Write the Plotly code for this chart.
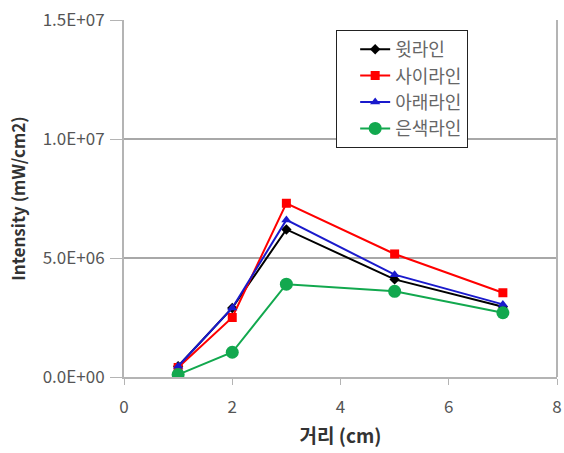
import plotly.graph_objects as go

x_vals = [1, 2, 3, 5, 7]
series_names = ["윗라인", "사이라인", "아래라인", "은색라인"]
top_line = [0.45e6, 2.9e6, 6.2e6, 4.1e6, 2.95e6]
mid_line = [0.4e6, 2.5e6, 7.3e6, 5.17e6, 3.54e6]
low_line = [0.45e6, 2.9e6, 6.6e6, 4.3e6, 3.05e6]
silver_line = [0.1e6, 1.04e6, 3.9e6, 3.6e6, 2.7e6]

y_tickvals = [0, 5e6, 1e7, 1.5e7]
y_ticktext = ["0.0E+00", "5.0E+06", "1.0E+07", "1.5E+07"]
x_tickvals = [0, 2, 4, 6, 8]

styles = [
    dict(color="#000000", symbol="diamond", size=8),
    dict(color="#ff0000", symbol="square", size=9),
    dict(color="#1a1acc", symbol="triangle-up", size=9),
    dict(color="#12a84e", symbol="circle", size=13),
]
data = [top_line, mid_line, low_line, silver_line]

fig = go.Figure()
for name, ys, st in zip(series_names, data, styles):
    fig.add_trace(go.Scatter(
        x=x_vals, y=ys, name=name, mode="lines+markers",
        line=dict(color=st["color"], width=2),
        marker=dict(color=st["color"], symbol=st["symbol"], size=st["size"]),
    ))

font_fam = "Noto Sans CJK KR"
fig.update_layout(
    width=564, height=453,
    margin=dict(l=124, r=7, t=20, b=76),
    paper_bgcolor="white", plot_bgcolor="white",
    font=dict(family=font_fam, color="#555555", size=14),
    showlegend=True,
    legend=dict(
        x=0.49, y=0.972, xanchor="left", yanchor="top",
        bgcolor="white", bordercolor="#222222", borderwidth=1,
        font=dict(family=font_fam, size=18, color="#666666"),
        tracegroupgap=0, itemsizing="trace", indentation=18,
    ),
    xaxis=dict(
        range=[0, 8], tickvals=x_tickvals, showgrid=False,
        showline=True, linecolor="#b4b4b4", linewidth=2, mirror=False,
        ticks="outside", ticklen=6, tickcolor="#b4b4b4",
        ticklabelstandoff=8,
        tickfont=dict(size=17, color="#555555"),
        title=dict(text="<b>거리 (cm)</b>", font=dict(size=19, color="#333333"), standoff=12),
        zeroline=False, automargin=False,
    ),
    yaxis=dict(
        range=[0, 1.5e7], tickvals=y_tickvals, ticktext=y_ticktext,
        showgrid=True, gridcolor="#a8a8a8", gridwidth=2,
        showline=True, linecolor="#b4b4b4", linewidth=2,
        ticks="outside", ticklen=12, tickcolor="#b4b4b4",
        ticklabelstandoff=2,
        tickfont=dict(size=17, color="#555555"),
        title=dict(text="<b>Intensity (mW/cm2)</b>", font=dict(size=17, color="#333333"), standoff=13),
        zeroline=False, automargin=False,
    ),
)
# right border of plot area
fig.add_shape(type="line", xref="paper", yref="paper", x0=1, x1=1, y0=0, y1=1,
              line=dict(color="#b4b4b4", width=2))

fig.write_html("out.html")
